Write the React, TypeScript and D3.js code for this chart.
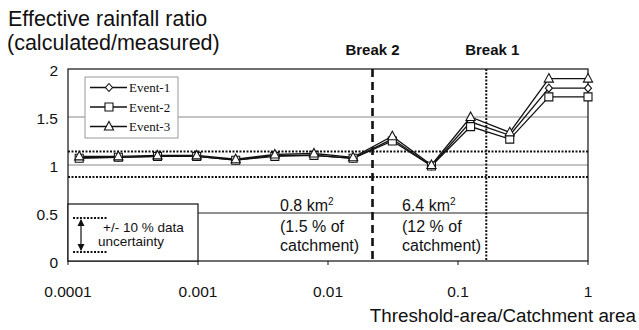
import React, { useEffect, useRef } from 'react';
import * as d3 from 'd3';

// threshold-area / catchment-area (halving steps)
const thresholds = [0.000122, 0.000244, 0.000488, 0.000977, 0.00195, 0.0039, 0.0078, 0.0156, 0.03125, 0.0625, 0.125, 0.25, 0.5, 1];
const event1 = [1.08, 1.08, 1.09, 1.09, 1.05, 1.10, 1.10, 1.07, 1.27, 0.99, 1.45, 1.31, 1.80, 1.80];
const event2 = [1.07, 1.08, 1.09, 1.09, 1.05, 1.09, 1.10, 1.07, 1.25, 0.99, 1.40, 1.27, 1.71, 1.71];
const event3 = [1.09, 1.09, 1.10, 1.10, 1.06, 1.11, 1.12, 1.08, 1.30, 1.00, 1.50, 1.34, 1.90, 1.90];
const seriesNames = ['Event-1', 'Event-2', 'Event-3'];
const markers = ['diamond', 'square', 'triangle'];

const xTicks = [0.0001, 0.001, 0.01, 0.1, 1];
const xTickLabels = ['0.0001', '0.001', '0.01', '0.1', '1'];
const yTicks = [0, 0.5, 1, 1.5, 2];
const uncertaintyBand = [0.875, 1.14];
const break2 = 0.022;
const break1 = 0.165;

const SANS = '"Liberation Sans", Arial, sans-serif';
const SERIF = '"Liberation Serif", "Times New Roman", serif';

const markerPath = (type: string) => {
    if (type === 'diamond') return 'M0,-4L3.5,0L0,4L-3.5,0Z';
    if (type === 'square') return 'M-4,-4H4V4H-4Z';
    return 'M0,-5L4.6,3.5H-4.6Z';
};

const App = () => {
    const svgRef = useRef<SVGSVGElement>(null);
    const width = 639;
    const height = 330;

    useEffect(() => {
        const svg = d3.select(svgRef.current);
        svg.selectAll('*').remove();

        const x = d3.scaleLog().domain([0.0001, 1]).range([68, 588]);
        const y = d3.scaleLinear().domain([0, 2]).range([261, 69]);
        const [x0, x1] = x.range();
        const [yb, yt] = y.range();

        // title
        const title = svg.append('g').style('font-family', SANS).style('font-size', '21.5px').attr('fill', '#111');
        title.append('text').attr('x', 8).attr('y', 26).text('Effective rainfall ratio');
        title.append('text').attr('x', 7).attr('y', 50).text('(calculated/measured)');

        // gridlines
        yTicks.filter(t => t > 0 && t < 2).forEach(t => {
            svg.append('line')
                .attr('x1', x0).attr('x2', x1)
                .attr('y1', y(t)).attr('y2', y(t))
                .attr('stroke', t === 0.5 ? '#222' : '#888')
                .attr('stroke-width', 1);
        });

        // +/- 10 % band
        uncertaintyBand.forEach(v => {
            svg.append('line')
                .attr('x1', x0).attr('x2', x1)
                .attr('y1', y(v)).attr('y2', y(v))
                .attr('stroke', '#111').attr('stroke-width', 2)
                .attr('stroke-dasharray', '2,1.5');
        });

        // frame
        svg.append('rect')
            .attr('x', x0).attr('y', yt)
            .attr('width', x1 - x0).attr('height', yb - yt)
            .attr('fill', 'none').attr('stroke', '#111').attr('stroke-width', 1.2);

        // x ticks
        xTicks.forEach((t, i) => {
            svg.append('line')
                .attr('x1', x(t)).attr('x2', x(t))
                .attr('y1', yb).attr('y2', yb + 4)
                .attr('stroke', '#111');
            svg.append('text')
                .attr('x', x(t)).attr('y', 297)
                .attr('text-anchor', 'middle')
                .style('font-family', SANS).style('font-size', '15.5px')
                .attr('fill', '#111')
                .text(xTickLabels[i]);
        });

        // y tick labels
        yTicks.forEach(t => {
            svg.append('text')
                .attr('x', 58).attr('y', y(t) + 6.5)
                .attr('text-anchor', 'end')
                .style('font-family', SANS).style('font-size', '15.5px')
                .attr('fill', '#111')
                .text(d3.format('~g')(t));
        });

        // axis title
        svg.append('text')
            .attr('x', 636).attr('y', 322)
            .attr('text-anchor', 'end')
            .style('font-family', SANS).style('font-size', '18.8px')
            .attr('fill', '#111')
            .text('Threshold-area/Catchment area');

        // break lines
        svg.append('line')
            .attr('x1', x(break2)).attr('x2', x(break2))
            .attr('y1', yt).attr('y2', yb)
            .attr('stroke', '#111').attr('stroke-width', 2.6)
            .attr('stroke-dasharray', '8,5');
        svg.append('line')
            .attr('x1', x(break1)).attr('x2', x(break1))
            .attr('y1', yt).attr('y2', yb)
            .attr('stroke', '#111').attr('stroke-width', 2)
            .attr('stroke-dasharray', '2,1.5');

        const brk = svg.append('g').style('font-family', SANS).style('font-size', '15px')
            .style('font-weight', 'bold').attr('fill', '#111').attr('text-anchor', 'middle');
        brk.append('text').attr('x', x(break2)).attr('y', 55).text('Break 2');
        brk.append('text').attr('x', x(break1) + 6).attr('y', 55).text('Break 1');

        // area annotations
        const ann = svg.append('g').style('font-family', SANS).style('font-size', '16px').attr('fill', '#111');
        const a1 = ann.append('text').attr('x', 280).attr('y', 211);
        a1.append('tspan').text('0.8 km');
        a1.append('tspan').attr('dy', -6).style('font-size', '10px').text('2');
        ann.append('text').attr('x', 280).attr('y', 232).text('(1.5 % of');
        ann.append('text').attr('x', 280).attr('y', 251).text('catchment)');
        const a2 = ann.append('text').attr('x', 402).attr('y', 211);
        a2.append('tspan').text('6.4 km');
        a2.append('tspan').attr('dy', -6).style('font-size', '10px').text('2');
        ann.append('text').attr('x', 402).attr('y', 232).text('(12 % of');
        ann.append('text').attr('x', 402).attr('y', 251).text('catchment)');

        // uncertainty box
        svg.append('rect')
            .attr('x', x0).attr('y', 204)
            .attr('width', x(0.001) - x0).attr('height', yb - 204)
            .attr('fill', '#fff').attr('stroke', '#111').attr('stroke-width', 1.2);
        [218, 252].forEach(yy => {
            svg.append('line')
                .attr('x1', 73).attr('x2', 108)
                .attr('y1', yy).attr('y2', yy)
                .attr('stroke', '#111').attr('stroke-width', 2)
                .attr('stroke-dasharray', '2,1.5');
        });
        svg.append('line').attr('x1', 81).attr('x2', 81).attr('y1', 220).attr('y2', 250)
            .attr('stroke', '#111').attr('stroke-width', 1.2);
        svg.append('path').attr('d', 'M81,219L77.5,226H84.5Z').attr('fill', '#111');
        svg.append('path').attr('d', 'M81,251L77.5,244H84.5Z').attr('fill', '#111');
        const unc = svg.append('g').style('font-family', SANS).style('font-size', '13.5px').attr('fill', '#111');
        unc.append('text').attr('x', 103).attr('y', 232).text('+/- 10 % data');
        unc.append('text').attr('x', 98).attr('y', 246).text('uncertainty');

        // series
        const series = [event1, event2, event3];
        const line = d3.line<number>()
            .x((_, i) => x(thresholds[i]))
            .y(d => y(d));
        series.forEach(s => {
            svg.append('path')
                .attr('d', line(s))
                .attr('fill', 'none')
                .attr('stroke', '#111')
                .attr('stroke-width', 1.3);
        });
        series.forEach((s, k) => {
            svg.append('g').selectAll('path')
                .data(s)
                .join('path')
                .attr('transform', (d, i) => `translate(${x(thresholds[i])},${y(d)})`)
                .attr('d', markerPath(markers[k]))
                .attr('fill', '#fff')
                .attr('stroke', '#111')
                .attr('stroke-width', 1.1);
        });

        // legend
        const lg = svg.append('g');
        lg.append('rect')
            .attr('x', 85).attr('y', 77).attr('width', 93).attr('height', 61)
            .attr('fill', '#fff').attr('stroke', '#999').attr('stroke-width', 1);
        seriesNames.forEach((name, k) => {
            const ly = 87.5 + k * 19.5;
            lg.append('line').attr('x1', 90).attr('x2', 127).attr('y1', ly).attr('y2', ly)
                .attr('stroke', '#111').attr('stroke-width', 1.3);
            lg.append('path').attr('transform', `translate(109,${ly})`)
                .attr('d', markerPath(markers[k]))
                .attr('fill', '#fff').attr('stroke', '#111').attr('stroke-width', 1.1);
            lg.append('text').attr('x', 129).attr('y', ly + 4.5)
                .style('font-family', SERIF).style('font-size', '13px')
                .attr('fill', '#111')
                .text(name);
        });
    }, []);

    return (
        <svg ref={svgRef} width={width} height={height}
            style={{ position: 'absolute', left: 0, top: 0, background: '#fff' }} />
    );
};

export default App;
